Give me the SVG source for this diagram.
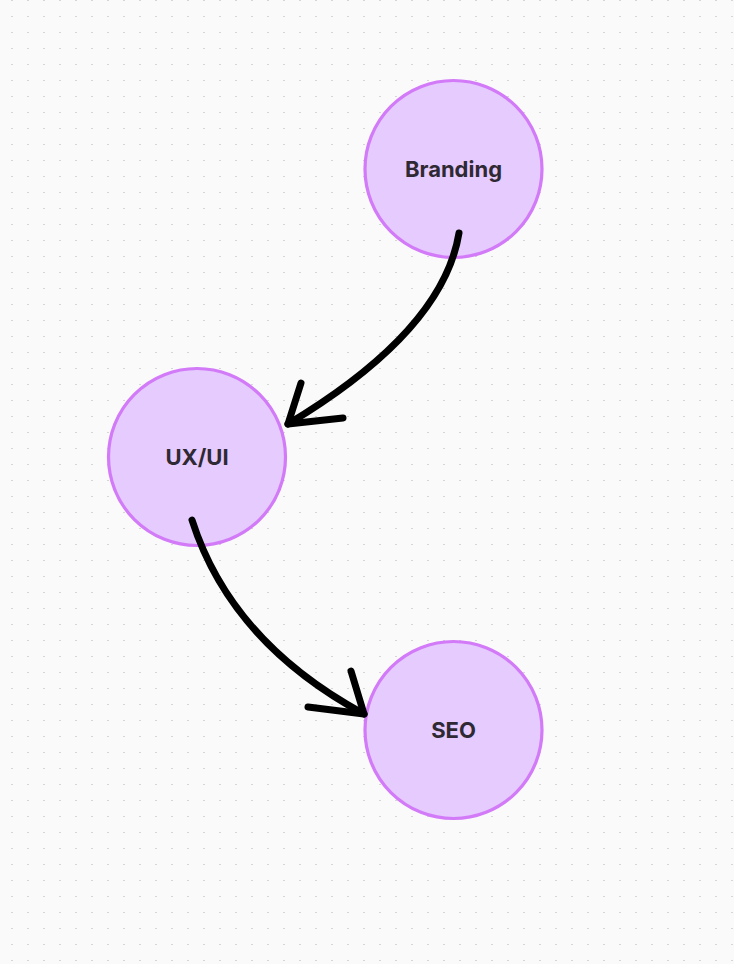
<svg xmlns="http://www.w3.org/2000/svg" width="734" height="964" viewBox="0 0 734 964">
  <defs>
    <pattern id="dots" x="0" y="0" width="16" height="16" patternUnits="userSpaceOnUse">
      <rect x="11.2" y="-0.8" width="1.6" height="1.6" fill="#c2c2c2"/>
    </pattern>
    <style>
      .node circle { fill: #e5cbfe; stroke: #d27af7; stroke-width: 3.2; }
      .node text { font-family: Inter, "Liberation Sans", sans-serif; font-size: 22px; font-weight: 700; fill: #2f2933; text-anchor: middle; dominant-baseline: central; }
      .conn path { fill: none; stroke: #000; stroke-width: 7; stroke-linecap: round; stroke-linejoin: round; }
    </style>
  </defs>
  <rect width="734" height="964" fill="#fafafa"/>
  <rect width="734" height="964" fill="url(#dots)"/>

  <g id="node-branding" class="node">
    <circle cx="453.5" cy="169" r="88.5"/>
    <text x="453.5" y="169">Branding</text>
  </g>
  <g id="node-uxui" class="node">
    <circle cx="197" cy="457" r="88.5"/>
    <text x="197" y="457">UX/UI</text>
  </g>
  <g id="node-seo" class="node">
    <circle cx="453.5" cy="730" r="88.5"/>
    <text x="453.5" y="730">SEO</text>
  </g>

  <g id="connectors" class="conn">
    <path d="M459,233 Q443,331 288,424"/>
    <path d="M301,383 L288,424 L343,418"/>
    <path d="M192,520 Q231,642 364,714"/>
    <path d="M351,671 L364,714 L308,707"/>
  </g>
</svg>
